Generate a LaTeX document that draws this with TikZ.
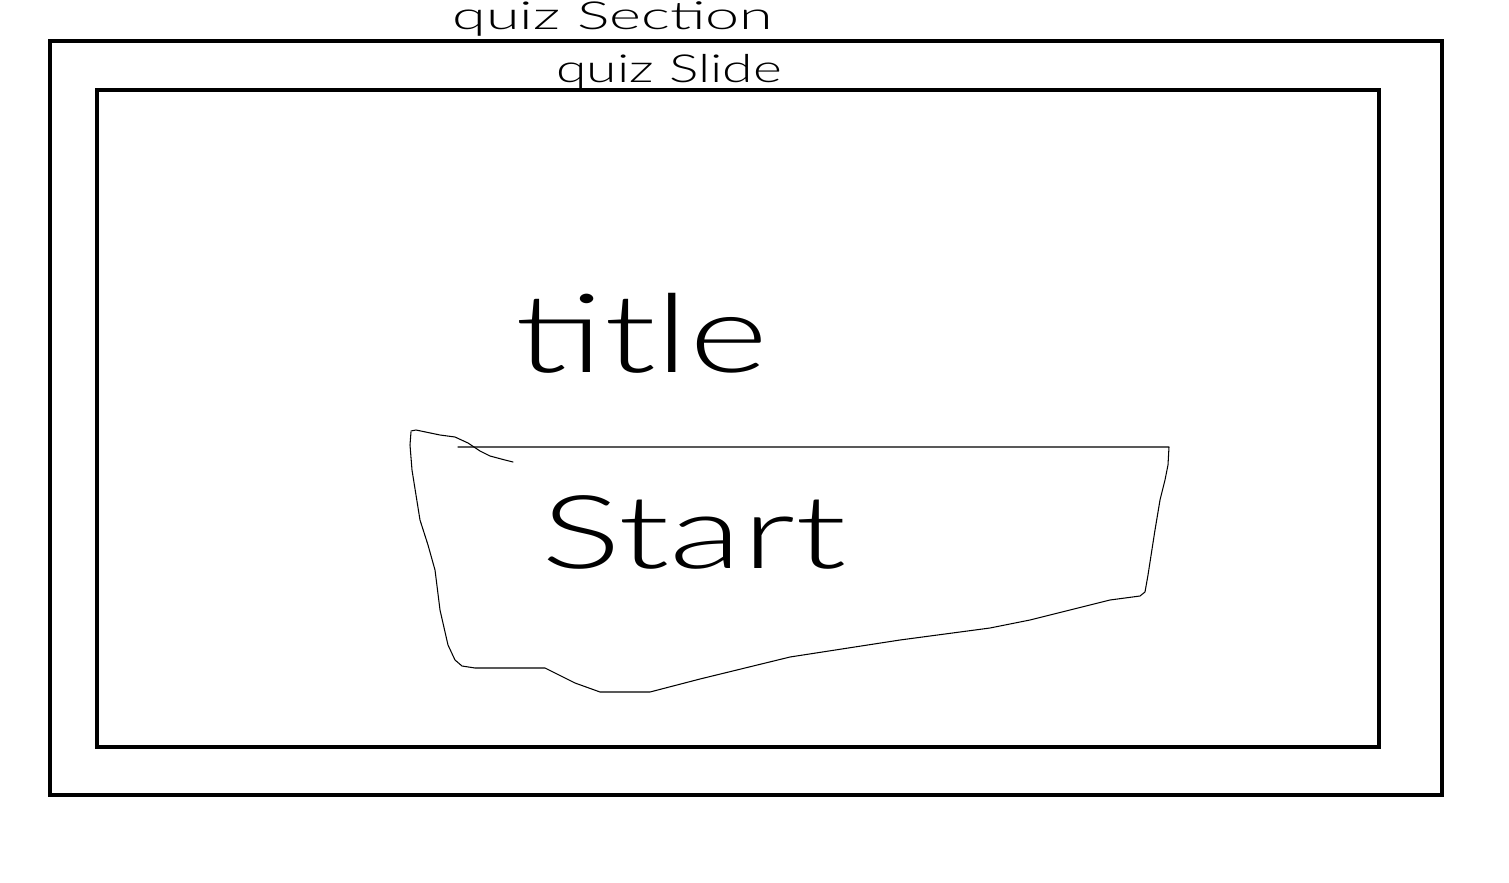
\documentclass[tikz,border=0pt]{standalone}
\usepackage{fontspec}
\usepackage{graphicx}
\setmainfont{Lato Light}
\begin{document}
\begin{tikzpicture}[x=0.02cm,y=-0.02cm,
  frame/.style={draw=black,line width=2.3pt},
  sketch/.style={draw=black,line width=0.6pt,line join=round,line cap=round},
  lbl/.style={inner sep=0pt,text=black}]
\useasboundingbox (0,0) rectangle (1509,883);
\fill[white] (0,0) rectangle (1509,883);
% frames
\node[frame,minimum width=1392*0.02cm,minimum height=754*0.02cm,inner sep=0pt] (section) at (746,418) {};
\node[frame,minimum width=1282*0.02cm,minimum height=657*0.02cm,inner sep=0pt] (slide) at (738,418.5) {};
% labels
\node[lbl,font=\fontsize{22}{22}\selectfont] (seclbl) at (613,19) {\scalebox{1.58}[1]{quiz Section}};
\node[lbl,font=\fontsize{22}{22}\selectfont] (slidelbl) at (669,72) {\scalebox{1.43}[1]{quiz Slide}};
\node[lbl,font=\fontsize{62}{62}\selectfont] (title) at (642,333) {\scalebox{1.39}[1]{title}};
% start button blob
\draw[sketch] (411,432) -- (410,445) -- (412,470) -- (420,520) -- (428,545) -- (435,570)
  -- (440,610) -- (448,645) -- (455,660) -- (462,666) -- (475,668) -- (545,668)
  -- (575,683) -- (600,692) -- (650,692) -- (700,679) -- (790,657) -- (900,640)
  -- (990,628) -- (1030,620) -- (1070,610) -- (1110,600) -- (1140,596) -- (1145,592)
  -- (1148,575) -- (1155,530) -- (1160,500) -- (1165,480) -- (1168,465) -- (1169,447)
  -- (458,447);
\draw[sketch] (411,431) -- (416,430) -- (440,435) -- (455,437) -- (468,443)
  -- (480,451) -- (490,456) -- (505,460) -- (513,462);
\node[lbl,font=\fontsize{58}{58}\selectfont] (start) at (694,532) {\scalebox{1.47}[1]{Start}};
\end{tikzpicture}
\end{document}
